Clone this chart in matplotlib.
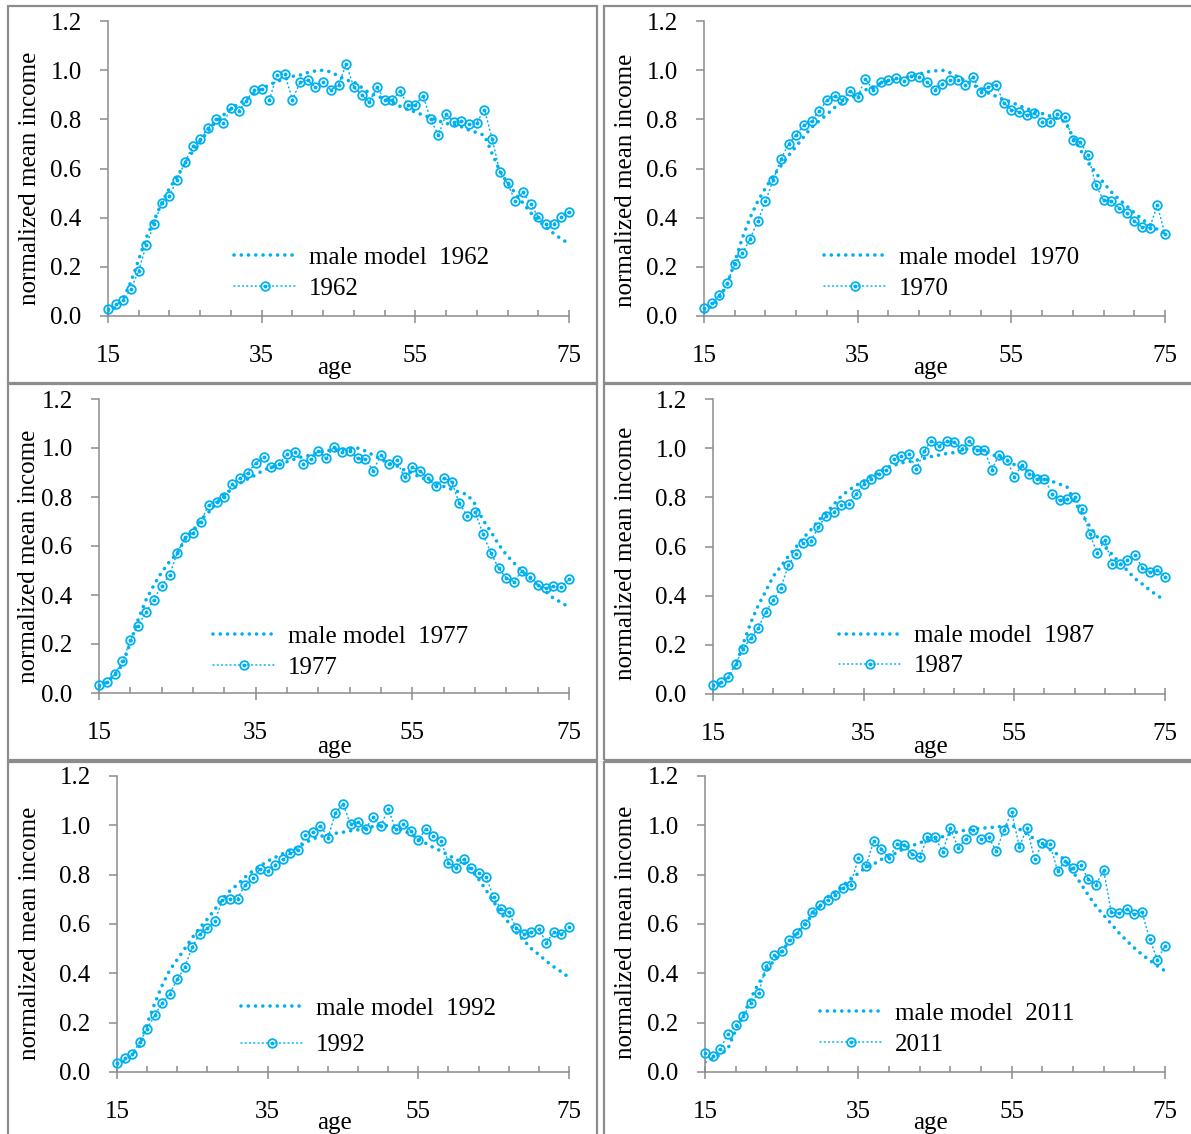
import numpy as np
import matplotlib
matplotlib.use("Agg")
import matplotlib.pyplot as plt
from matplotlib.transforms import Affine2D
from matplotlib.patches import Rectangle
from matplotlib.legend_handler import HandlerTuple

W, H = 1191, 1134
BLUE = "#00b0f0"
GREY = "#8c8c8c"

ages = np.arange(15, 76)
years = ["1962", "1970", "1977", "1987", "1992", "2011"]

data_1962 = [0.03, 0.047, 0.065, 0.11, 0.185, 0.29, 0.375, 0.46, 0.49, 0.555,
             0.625, 0.69, 0.72, 0.765, 0.80, 0.785, 0.845, 0.835, 0.875, 0.92,
             0.925, 0.88, 0.98, 0.985, 0.88, 0.95, 0.96, 0.93, 0.95, 0.92,
             0.94, 1.025, 0.93, 0.90, 0.87, 0.93, 0.88, 0.88, 0.915, 0.86,
             0.86, 0.895, 0.80, 0.735, 0.82, 0.79, 0.795, 0.78, 0.787, 0.84,
             0.72, 0.585, 0.54, 0.467, 0.503, 0.457, 0.402, 0.374, 0.374, 0.402, 0.424]
model_1962 = [0.02, 0.035, 0.07, 0.14, 0.23, 0.32, 0.39, 0.46, 0.52, 0.566,
              0.62, 0.668, 0.712, 0.75, 0.79, 0.817, 0.842, 0.864, 0.88, 0.905,
              0.925, 0.94, 0.955, 0.963, 0.975, 0.98, 0.99, 0.997, 1.0, 0.993,
              0.976, 0.96, 0.952, 0.93, 0.907, 0.894, 0.885, 0.87, 0.853, 0.84,
              0.83, 0.817, 0.807, 0.794, 0.783, 0.78, 0.77, 0.756, 0.746, 0.735,
              0.66, 0.59, 0.54, 0.50, 0.46, 0.42, 0.39, 0.36, 0.336, 0.313, 0.295]

data_1970 = [0.031, 0.054, 0.085, 0.135, 0.21, 0.255, 0.314, 0.386, 0.467, 0.553,
             0.637, 0.70, 0.738, 0.775, 0.794, 0.834, 0.878, 0.895, 0.878, 0.916,
             0.891, 0.966, 0.918, 0.952, 0.959, 0.97, 0.957, 0.978, 0.973, 0.952,
             0.921, 0.945, 0.959, 0.962, 0.938, 0.973, 0.912, 0.932, 0.941, 0.868,
             0.84, 0.83, 0.817, 0.826, 0.791, 0.791, 0.82, 0.81, 0.715, 0.706,
             0.654, 0.532, 0.471, 0.467, 0.44, 0.417, 0.387, 0.363, 0.359, 0.451, 0.332]
model_1970 = [0.02, 0.04, 0.075, 0.126, 0.22, 0.318, 0.40, 0.467, 0.52, 0.57,
              0.61, 0.653, 0.69, 0.73, 0.767, 0.794, 0.82, 0.848, 0.868, 0.887,
              0.898, 0.92, 0.93, 0.946, 0.955, 0.962, 0.966, 0.976, 0.984, 0.993,
              0.997, 1.0, 0.99, 0.973, 0.957, 0.94, 0.925, 0.907, 0.894, 0.88,
              0.87, 0.856, 0.844, 0.833, 0.824, 0.814, 0.803, 0.79, 0.73, 0.675,
              0.623, 0.582, 0.542, 0.505, 0.475, 0.448, 0.42, 0.394, 0.372, 0.352, 0.336]

data_1977 = [0.031, 0.043, 0.077, 0.129, 0.215, 0.275, 0.329, 0.381, 0.438, 0.482,
             0.573, 0.635, 0.652, 0.70, 0.767, 0.781, 0.802, 0.853, 0.877, 0.90,
             0.938, 0.965, 0.921, 0.935, 0.976, 0.982, 0.935, 0.954, 0.989, 0.958,
             1.005, 0.985, 0.989, 0.958, 0.954, 0.908, 0.971, 0.935, 0.949, 0.88,
             0.921, 0.906, 0.877, 0.843, 0.877, 0.863, 0.774, 0.723, 0.74, 0.65,
             0.573, 0.51, 0.469, 0.455, 0.499, 0.473, 0.442, 0.428, 0.435, 0.432, 0.465]
model_1977 = [0.025, 0.045, 0.075, 0.116, 0.205, 0.30, 0.38, 0.44, 0.493, 0.536,
              0.571, 0.628, 0.663, 0.707, 0.738, 0.775, 0.81, 0.832, 0.856, 0.874,
              0.89, 0.91, 0.921, 0.93, 0.944, 0.955, 0.965, 0.971, 0.982, 0.989,
              0.992, 0.995, 0.996, 1.0, 0.988, 0.971, 0.954, 0.937, 0.927, 0.91,
              0.897, 0.88, 0.87, 0.856, 0.843, 0.832, 0.82, 0.81, 0.772, 0.707,
              0.66, 0.607, 0.564, 0.53, 0.496, 0.469, 0.442, 0.415, 0.387, 0.37, 0.35]

data_1987 = [0.038, 0.047, 0.069, 0.122, 0.183, 0.228, 0.267, 0.334, 0.381, 0.431,
             0.523, 0.571, 0.614, 0.624, 0.678, 0.725, 0.739, 0.77, 0.774, 0.814,
             0.854, 0.876, 0.896, 0.91, 0.957, 0.969, 0.978, 0.915, 0.987, 1.03,
             1.01, 1.028, 1.024, 0.997, 1.03, 0.994, 0.994, 0.913, 0.974, 0.953,
             0.883, 0.93, 0.895, 0.875, 0.876, 0.815, 0.788, 0.795, 0.80, 0.753,
             0.651, 0.574, 0.625, 0.529, 0.529, 0.546, 0.564, 0.513, 0.496, 0.506, 0.475]
model_1987 = [0.03, 0.045, 0.07, 0.113, 0.205, 0.289, 0.36, 0.418, 0.479, 0.519,
              0.56, 0.597, 0.635, 0.668, 0.706, 0.736, 0.77, 0.804, 0.828, 0.849,
              0.865, 0.885, 0.90, 0.92, 0.93, 0.94, 0.945, 0.951, 0.958, 0.966,
              0.972, 0.978, 0.982, 0.988, 1.0, 0.998, 0.99, 0.974, 0.964, 0.95,
              0.933, 0.92, 0.902, 0.885, 0.876, 0.865, 0.854, 0.842, 0.784, 0.73,
              0.682, 0.64, 0.60, 0.567, 0.533, 0.502, 0.47, 0.447, 0.422, 0.40, 0.381]

data_1992 = [0.038, 0.057, 0.072, 0.12, 0.176, 0.23, 0.281, 0.318, 0.376, 0.426,
             0.507, 0.561, 0.582, 0.613, 0.699, 0.703, 0.703, 0.758, 0.785, 0.825,
             0.814, 0.841, 0.863, 0.886, 0.90, 0.961, 0.972, 0.999, 0.95, 1.051,
             1.086, 1.005, 1.012, 0.985, 1.035, 0.997, 1.065, 0.985, 1.004, 0.978,
             0.94, 0.986, 0.958, 0.936, 0.848, 0.828, 0.862, 0.828, 0.808, 0.791,
             0.708, 0.66, 0.647, 0.584, 0.561, 0.568, 0.579, 0.525, 0.568, 0.559, 0.588]
model_1992 = [0.03, 0.045, 0.07, 0.106, 0.196, 0.277, 0.352, 0.413, 0.456, 0.50,
              0.545, 0.585, 0.62, 0.66, 0.70, 0.735, 0.76, 0.79, 0.815, 0.835,
              0.855, 0.87, 0.885, 0.90, 0.91, 0.93, 0.945, 0.955, 0.962, 0.968,
              0.972, 0.978, 0.982, 0.988, 0.995, 1.0, 0.998, 0.99, 0.978, 0.965,
              0.945, 0.927, 0.91, 0.896, 0.879, 0.862, 0.848, 0.82, 0.782, 0.737,
              0.69, 0.643, 0.605, 0.565, 0.534, 0.50, 0.476, 0.449, 0.426, 0.406, 0.383]

data_2011 = [0.077, 0.065, 0.095, 0.156, 0.189, 0.227, 0.28, 0.321, 0.43, 0.473,
             0.49, 0.534, 0.565, 0.598, 0.649, 0.679, 0.699, 0.717, 0.747, 0.76,
             0.866, 0.835, 0.936, 0.904, 0.866, 0.923, 0.92, 0.883, 0.87, 0.951,
             0.951, 0.893, 0.988, 0.91, 0.943, 0.981, 0.944, 0.951, 0.896, 0.981,
             1.055, 0.913, 0.99, 0.862, 0.927, 0.924, 0.814, 0.856, 0.829, 0.839,
             0.782, 0.76, 0.818, 0.647, 0.643, 0.66, 0.639, 0.649, 0.538, 0.456, 0.51]
model_2011 = [0.04, 0.055, 0.07, 0.095, 0.17, 0.23, 0.30, 0.36, 0.408, 0.453,
              0.49, 0.528, 0.564, 0.60, 0.636, 0.672, 0.71, 0.73, 0.755, 0.784,
              0.805, 0.83, 0.843, 0.862, 0.875, 0.889, 0.907, 0.917, 0.929, 0.94,
              0.945, 0.954, 0.965, 0.974, 0.981, 0.985, 0.988, 0.991, 0.993, 0.997,
              1.0, 0.985, 0.965, 0.944, 0.924, 0.902, 0.882, 0.859, 0.812, 0.764,
              0.717, 0.672, 0.636, 0.60, 0.564, 0.532, 0.503, 0.476, 0.453, 0.43, 0.41]

data_series = [data_1962, data_1970, data_1977, data_1987, data_1992, data_2011]
model_series = [model_1962, model_1970, model_1977, model_1987, model_1992, model_2011]

# panel layout in pixels (top-down): axes left, right, top (y=1.2), bottom (y=0)
axes_px = [(108, 569, 21, 316), (704, 1165, 21, 316),
           (99, 569, 399, 693), (713, 1165, 399, 694),
           (117, 569, 776, 1072), (705, 1165, 776, 1072)]
# legend handle start (x) and centre of the two rows (y), row spacing
legend_px = [(234, 273), (824, 273), (213, 652), (839, 651), (241, 1027), (820, 1029)]
legend_gap = [0.33, 0.33, 0.33, 0.3, 0.55, 0.33]
ylabel_px = [(30, 178), (626, 180), (29, 556), (626, 553), (30, 933), (626, 932)]
xlabel_px = [(335, 368), (931, 368), (335, 747), (931, 747), (335, 1123), (930, 1123)]
# panel frames: x0, y0, x1, y1
frames_px = [(8, 6, 597, 383), (604, 6, 1196, 383),
             (8, 384, 597, 760), (604, 384, 1196, 760),
             (8, 762, 597, 1140), (604, 762, 1196, 1140)]

plt.rcParams['font.family'] = ['Liberation Serif', 'DejaVu Serif']
plt.rcParams['font.size'] = 18

fig = plt.figure(figsize=(W / 100, H / 100), dpi=100)
px = Affine2D().scale(1.0 / W, -1.0 / H).translate(0, 1) + fig.transFigure

# grey frames round each panel
for x0, y0, x1, y1 in frames_px:
    fig.patches.append(Rectangle((x0, y1), x1 - x0, y0 - y1, transform=px,
                                 fill=False, edgecolor=GREY, lw=1.6))


def draw_panel(i):
    l, r, t, b = axes_px[i]
    ax = fig.add_axes([l / W, 1 - b / H, (r - l) / W, (b - t) / H])

    model_line, = ax.plot(ages, model_series[i], color=BLUE, lw=2.6,
                          ls=(0, (0.01, 2.0)), dash_capstyle='round', zorder=2)
    data_line, = ax.plot(ages, data_series[i], color=BLUE, lw=1.1,
                         ls=(0, (0.6, 2.2)), dash_capstyle='round',
                         marker='o', ms=6.2, mfc='none', mew=1.3,
                         clip_on=False, zorder=3)
    dots, = ax.plot(ages, data_series[i], ls='none', marker='o', ms=1.8,
                    color=BLUE, clip_on=False, zorder=3)

    ax.set_xlim(15, 75)
    ax.set_ylim(0, 1.2)
    for s in ['top', 'right']:
        ax.spines[s].set_visible(False)
    for s in ['left', 'bottom']:
        ax.spines[s].set_color(GREY)
        ax.spines[s].set_linewidth(1.1)

    ax.set_yticks(np.arange(0, 1.21, 0.2))
    ax.set_yticklabels([f"{v:.1f}" for v in np.arange(0, 1.21, 0.2)])
    ax.set_xticks([15, 35, 55, 75])
    ax.set_xticks(np.arange(15, 76, 4), minor=True)
    ax.xaxis.remove_overlapping_locs = False
    ax.tick_params(axis='y', direction='out', length=6, width=1.1,
                   color=GREY, pad=13, labelsize=18)
    ax.tick_params(axis='x', which='major', direction='out', length=5,
                   width=1.1, color=GREY, pad=16, labelsize=18)
    ax.tick_params(axis='x', which='minor', direction='in', length=4,
                   width=1.1, color=GREY)

    ax.set_ylabel("normalized mean income", fontsize=18)
    ax.yaxis.set_label_coords(*ylabel_px[i], transform=px)
    ax.yaxis.label.set_va('center')
    ax.set_xlabel("age", fontsize=18)
    ax.xaxis.set_label_coords(*xlabel_px[i], transform=px)
    ax.xaxis.label.set_va('center')

    ax.legend([model_line, (data_line, dots)],
              ["male model  " + years[i], years[i]],
              handler_map={tuple: HandlerTuple(ndivide=1)},
              loc='center left', bbox_to_anchor=legend_px[i], bbox_transform=px,
              frameon=False, borderpad=0, borderaxespad=0, handlelength=2.5,
              handletextpad=0.5, labelspacing=legend_gap[i], fontsize=18)
    return ax


for i in range(6):
    draw_panel(i)

plt.savefig("out.png", dpi=100)
